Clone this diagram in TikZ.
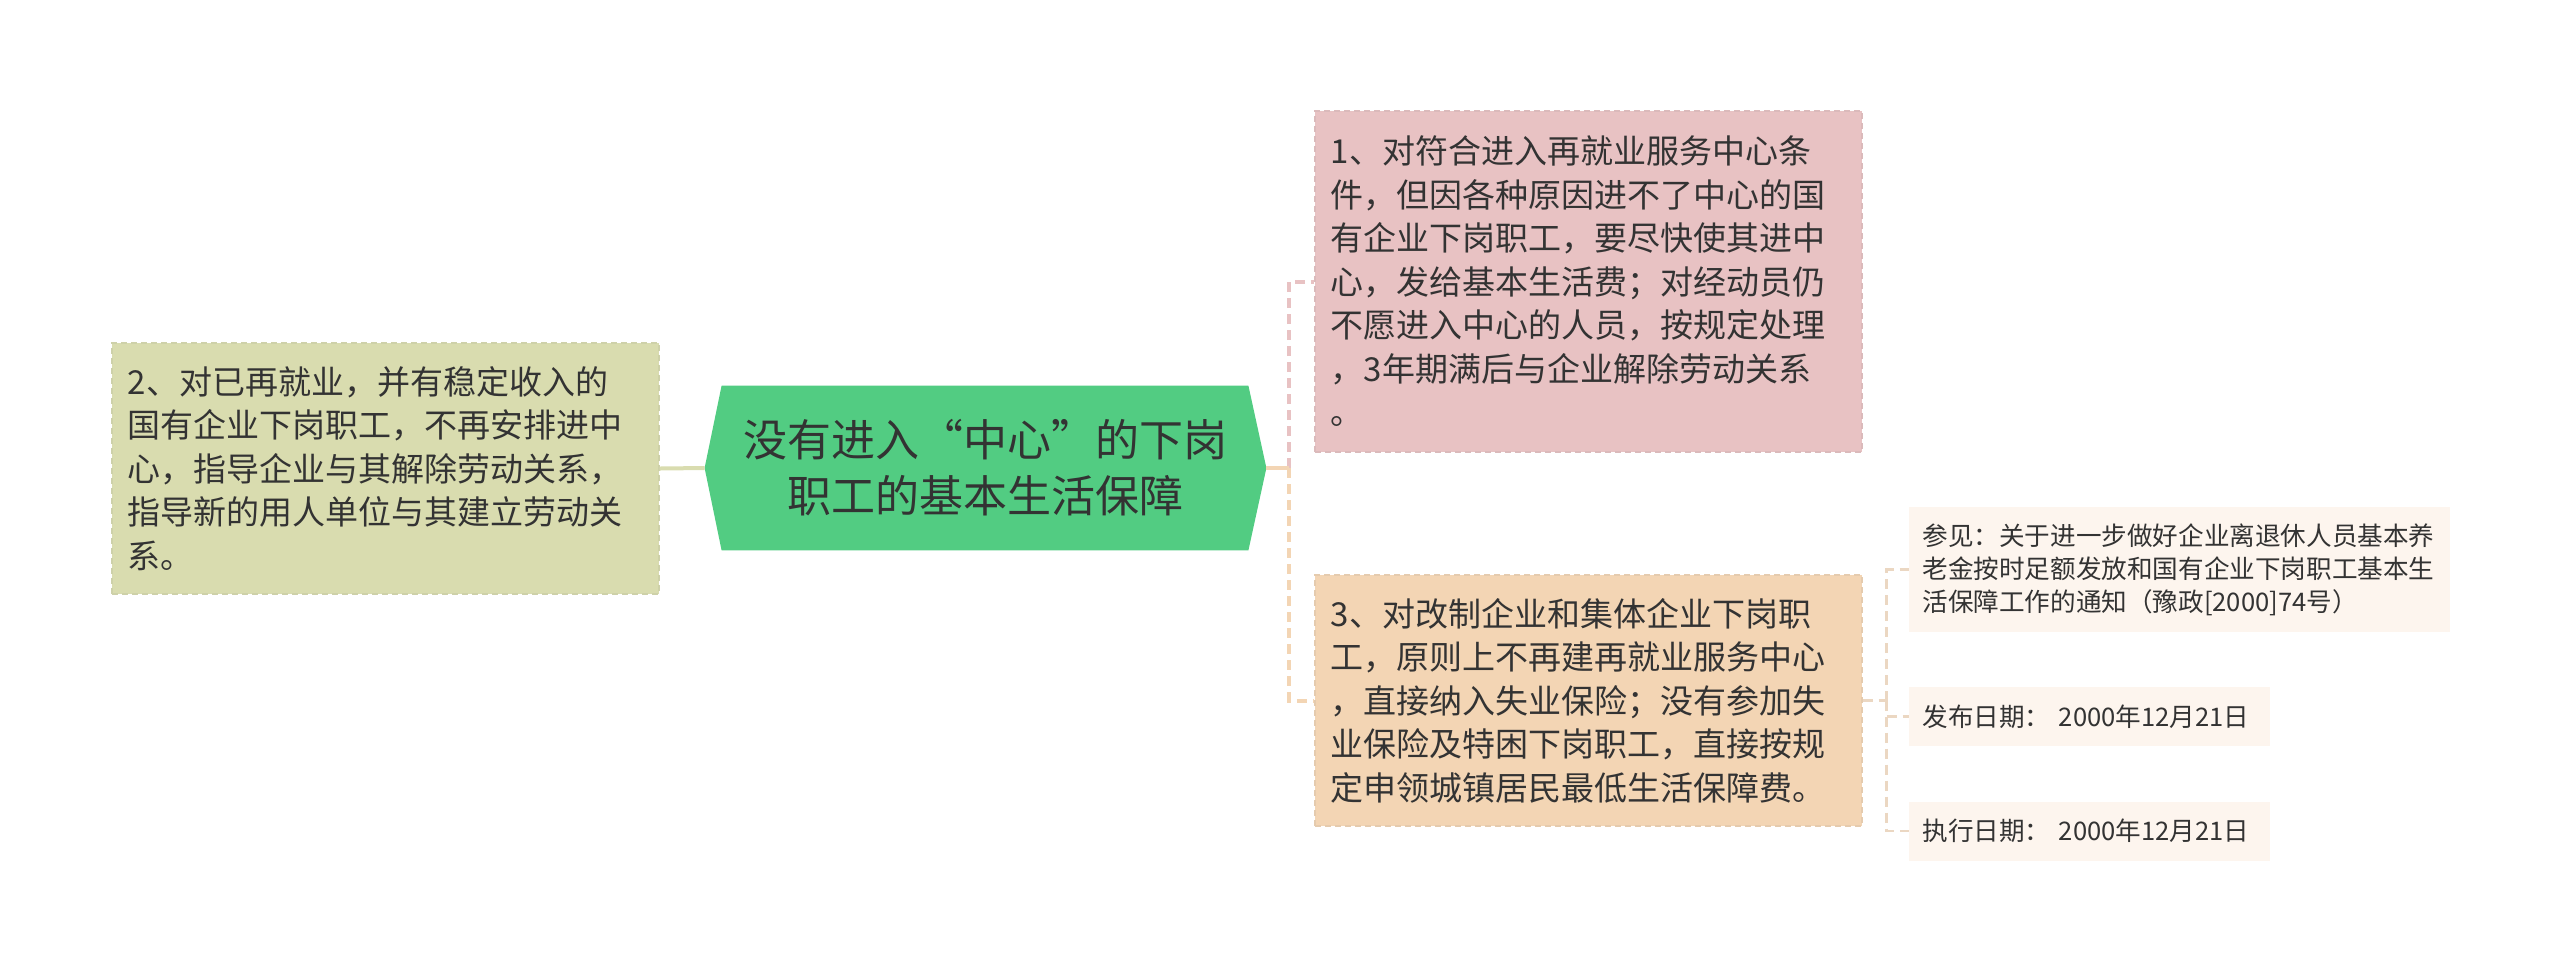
\documentclass[tikz,border=0pt]{standalone}
\usepackage{fontspec}
\setmainfont{Noto Sans CJK SC}
\setlength{\parindent}{0pt}
\usetikzlibrary{backgrounds}
\definecolor{rootgreen}{HTML}{52CC82}
\definecolor{olivebox}{HTML}{D9DCAF}
\definecolor{pinkbox}{HTML}{E8C2C3}
\definecolor{peachbox}{HTML}{F3D5B4}
\definecolor{notebox}{HTML}{FDF5EE}
\definecolor{noteline}{HTML}{EBD7C2}
\definecolor{inktext}{HTML}{333333}
\tikzset{
  topicbox/.style={anchor=west, inner xsep=8pt, inner ysep=0pt, text width=257.5pt,
    align=left, text=inktext, font=\fontsize{16.5pt}{21.75pt}\selectfont,
    fill=#1, draw=#1!88!gray, dash pattern=on 3pt off 2pt, line width=0.8pt},
  notebox/.style={anchor=west, inner xsep=6.5pt, inner ysep=0pt, align=left,
    text=inktext, font=\fontsize{12.8pt}{16.5pt}\selectfont, fill=notebox},
  roottext/.style={inner sep=0pt, minimum width=280.5pt, minimum height=82pt,
    align=center, text=inktext, font=\fontsize{22pt}{28pt}\selectfont},
  link/.style={line width=2pt, draw=#1},
  dashlink/.style={line width=2pt, draw=#1, dash pattern=on 5pt off 3pt},
  notelink/.style={line width=1.3pt, draw=noteline, dash pattern=on 5pt off 3pt}
}

\begin{document}
\begin{tikzpicture}[x=0.5pt,y=-0.5pt]
\useasboundingbox (0,0) rectangle (2560,971);

% main topic
\node[roottext] (root) at (985.5,468) {没有进入“中心”的下岗\\职工的基本生活保障};
\begin{scope}[on background layer]
\fill[rootgreen] (root.west) -- ([xshift=8.5pt]root.north west)
  -- ([xshift=-9pt]root.north east) -- (root.east)
  -- ([xshift=-9pt]root.south east) -- ([xshift=8.5pt]root.south west) -- cycle;
\end{scope}

% left branch
\node[topicbox=olivebox, minimum height=125.5pt] (reemployed) at (111,468.5)
  {2、对已再就业，并有稳定收入的\\国有企业下岗职工，不再安排进中\\心，指导企业与其解除劳动关系，\\指导新的用人单位与其建立劳动关\\系。};

% right branches
\node[topicbox=pinkbox, minimum height=170.5pt] (eligible) at (1314,281.5)
  {1、对符合进入再就业服务中心条\\件，但因各种原因进不了中心的国\\有企业下岗职工，要尽快使其进中\\心，发给基本生活费；对经动员仍\\不愿进入中心的人员，按规定处理\\，3年期满后与企业解除劳动关系\\。};
\node[topicbox=peachbox, minimum height=125.5pt] (restructured) at (1314,700.5)
  {3、对改制企业和集体企业下岗职\\工，原则上不再建再就业服务中心\\，直接纳入失业保险；没有参加失\\业保险及特困下岗职工，直接按规\\定申领城镇居民最低生活保障费。};

% notes
\node[notebox, text width=257.5pt, minimum height=62.5pt] (seealso) at (1909,569.5)
  {参见：关于进一步做好企业离退休人员基本养\\老金按时足额发放和国有企业下岗职工基本生\\活保障工作的通知（豫政[2000]74号）};
\node[notebox, text width=167.5pt, minimum height=29.5pt] (issued) at (1909,716.5)
  {发布日期：~2000年12月21日};
\node[notebox, text width=167.5pt, minimum height=29.5pt] (effective) at (1909,831)
  {执行日期：~2000年12月21日};

% connectors
\draw[link=olivebox] (reemployed.east) -- (root.west);
\coordinate (hub) at ([xshift=11.5pt]root.east);
\draw[dashlink=pinkbox] (hub) |- (eligible.west);
\draw[dashlink=peachbox] (hub) |- (restructured.west);
\draw[link=peachbox] (root.east) -- (hub);
\draw[notelink] (restructured.east) -- ++(24,0) coordinate (subhub);
\draw[notelink] (subhub) |- (seealso.west)
  (subhub) |- (issued.west)
  (subhub) |- (effective.west);

\end{tikzpicture}
\end{document}
